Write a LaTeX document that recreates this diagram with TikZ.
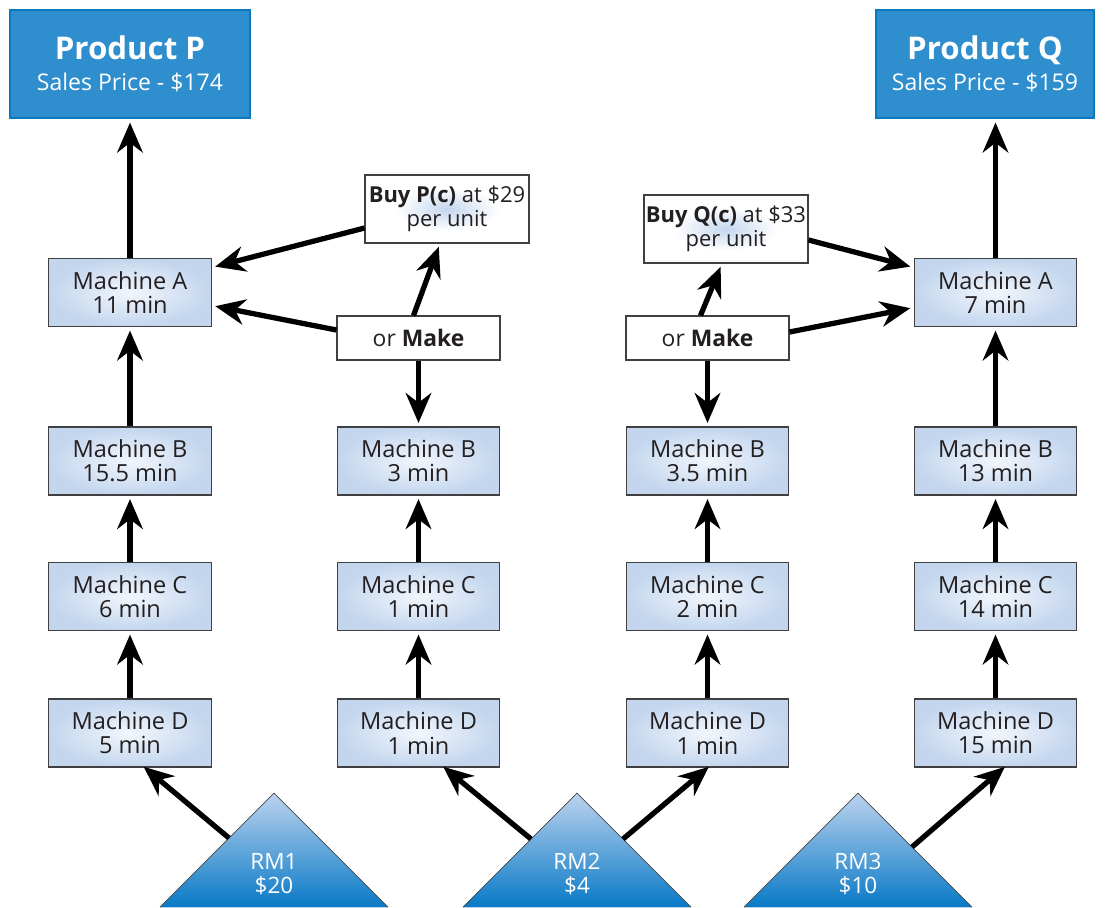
\documentclass[tikz,border=0pt]{standalone}
\usepackage{fontspec}
\setmainfont{Open Sans}
\usetikzlibrary{arrows.meta,calc}
\definecolor{prodfill}{HTML}{2E8ECE}
\definecolor{proddraw}{HTML}{0A78C0}
\definecolor{medge}{HTML}{C3D6EE}
\definecolor{mcenter}{HTML}{F2F6FC}
\definecolor{txt}{HTML}{231F20}
\definecolor{tritop}{HTML}{BCD3EE}
\definecolor{tribot}{HTML}{0879C6}
\pgfdeclareradialshading{machshade}{\pgfpoint{0bp}{0bp}}{color(0bp)=(mcenter); color(25bp)=(medge); color(50bp)=(medge)}
\pgfdeclareradialshading{buyshade}{\pgfpoint{0bp}{0bp}}{color(0bp)=(medge); color(16bp)=(white); color(50bp)=(white)}
\begin{document}
\begin{tikzpicture}[x=0.02cm,y=-0.02cm,
  base/.style={inner sep=0pt, align=center, text=txt, font=\fontsize{13.4}{13.8}\selectfont},
  mach/.style={base, draw=black!75, line width=0.6pt, shading=machshade, minimum width=3.25cm, minimum height=1.36cm},
  buybox/.style={base, draw=black!75, line width=0.6pt, shading=buyshade, minimum width=3.28cm, minimum height=1.36cm, font=\fontsize{12.5}{13.8}\selectfont},
  makebox/.style={base, draw=black!75, line width=0.6pt, fill=white, minimum width=3.26cm, minimum height=0.88cm, font=\fontsize{13}{13.8}\selectfont},
  prod/.style={base, text=white, draw=proddraw, line width=1.2pt, fill=prodfill, minimum height=2.16cm, font=\fontsize{13.1}{17.5}\selectfont},
  tri/.style={top color=tritop, bottom color=tribot},
  triline/.style={draw=black!70, line width=0.4pt},
  rmtext/.style={base, text=white, font=\fontsize{12.8}{13.5}\selectfont},
  arr/.style={line width=3pt, shorten >=2pt, -{Stealth[length=17pt,width=14.5pt,inset=5.5pt]}}]
\useasboundingbox (0,0) rectangle (1105,907);

% products
\node[prod, minimum width=4.8cm] (P) at (130,64) {{\fontsize{17.8}{18}\selectfont\bfseries Product P}\\Sales Price - \$174};
\node[prod, minimum width=4.36cm] (Q) at (985,64) {{\fontsize{17.8}{18}\selectfont\bfseries Product Q}\\Sales Price - \$159};

% buy boxes
\node[buybox] (buyP) at (447,209) {\textbf{Buy P(c)} at \$29\\per unit};
\node[buybox] (buyQ) at (726,229) {\textbf{Buy Q(c)} at \$33\\per unit};

% make boxes
\node[makebox] (make2) at (418.5,338) {or \textbf{Make}};
\node[makebox] (make3) at (707.5,338) {or \textbf{Make}};

% machines
\node[mach] (a1) at (130,292.5) {Machine A\\11 min};
\node[mach] (b1) at (130,461) {Machine B\\15.5 min};
\node[mach] (c1) at (130,596.5) {Machine C\\6 min};
\node[mach] (d1) at (130,733) {Machine D\\5 min};

\node[mach] (b2) at (418.5,461) {Machine B\\3 min};
\node[mach] (c2) at (418.5,596.5) {Machine C\\1 min};
\node[mach] (d2) at (418.5,733) {Machine D\\1 min};

\node[mach] (b3) at (707.5,461) {Machine B\\3.5 min};
\node[mach] (c3) at (707.5,596.5) {Machine C\\2 min};
\node[mach] (d3) at (707.5,733) {Machine D\\1 min};

\node[mach] (a4) at (995.5,292.5) {Machine A\\7 min};
\node[mach] (b4) at (995.5,461) {Machine B\\13 min};
\node[mach] (c4) at (995.5,596.5) {Machine C\\14 min};
\node[mach] (d4) at (995.5,733) {Machine D\\15 min};

% raw material triangles
\fill[tri] (160,907) -- (274,793) -- (388,907) -- cycle;
\draw[triline] (160,907) -- (274,793) -- (388,907);
\fill[tri] (463,907) -- (577,793) -- (691,907) -- cycle;
\draw[triline] (463,907) -- (577,793) -- (691,907);
\fill[tri] (744,907) -- (858,793) -- (972,907) -- cycle;
\draw[triline] (744,907) -- (858,793) -- (972,907);
\node[rmtext] (rm1) at (274,874) {RM1\\\$20};
\node[rmtext] (rm2) at (577,874) {RM2\\\$4};
\node[rmtext] (rm3) at (858,874) {RM3\\\$10};
\coordinate (rm1s) at (229,838);
\coordinate (rm2l) at (531,839);
\coordinate (rm2r) at (623,839);
\coordinate (rm3s) at (912,847);

% arrows column 1
\draw[arr] (d1.north) -- (c1.south);
\draw[arr] (c1.north) -- (b1.south);
\draw[arr] (b1.north) -- (a1.south);
\draw[arr] (a1.north) -- (a1.north |- P.south);
% column 2
\draw[arr] (d2.north) -- (c2.south);
\draw[arr] (c2.north) -- (b2.south);
\draw[arr] (make2.south) -- (b2.north);
\draw[arr] ($(make2.north)+(-5,0)$) -- ($(buyP.south)+(-7,0)$);
\draw[arr] ($(buyP.west)+(0,19)$) -- ($(a1.east)+(0,-25)$);
\draw[arr] ($(make2.west)+(0,-8)$) -- ($(a1.east)+(0,13)$);
% column 3
\draw[arr] (d3.north) -- (c3.south);
\draw[arr] (c3.north) -- (b3.south);
\draw[arr] (make3.south) -- (b3.north);
\draw[arr] ($(make3.north)+(-7,0)$) -- ($(buyQ.south)+(-4,0)$);
\draw[arr] ($(buyQ.east)+(0,11)$) -- ($(a4.west)+(0,-25)$);
\draw[arr] ($(make3.east)+(0,-6)$) -- ($(a4.west)+(0,15)$);
% column 4
\draw[arr] (d4.north) -- (c4.south);
\draw[arr] (c4.north) -- (b4.south);
\draw[arr] (b4.north) -- (a4.south);
\draw[arr] (a4.north) -- (a4.north |- Q.south);
% raw materials
\draw[arr] (rm1s) -- ($(d1.south)+(11,-3)$);
\draw[arr] (rm2l) -- ($(d2.south)+(22,-3)$);
\draw[arr] (rm2r) -- ($(d3.south)+(4,-3)$);
\draw[arr] (rm3s) -- ($(d4.south)+(12,-3)$);
\end{tikzpicture}
\end{document}
